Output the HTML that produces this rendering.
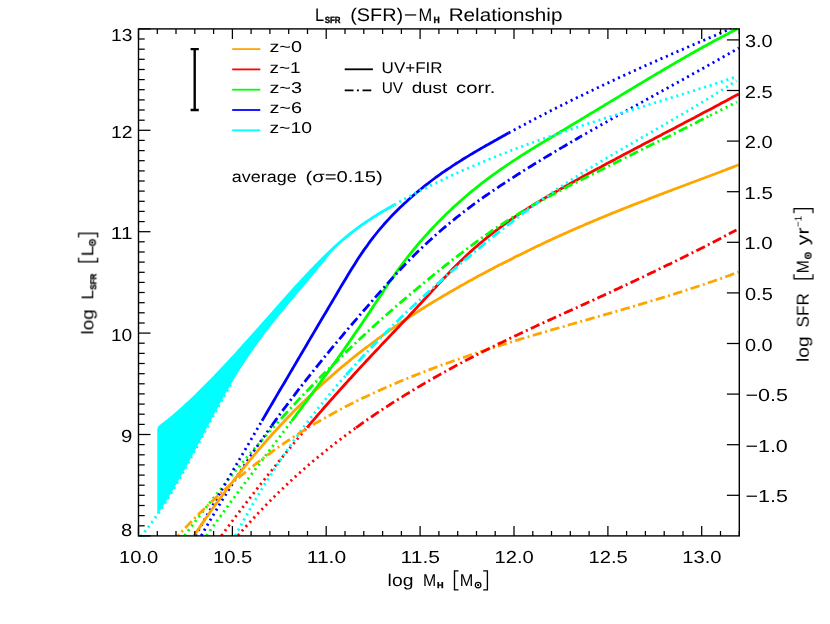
<!DOCTYPE html>
<html><head><meta charset="utf-8"><title>L_SFR - M_H</title>
<style>html,body{margin:0;padding:0;background:#fff;}body{width:830px;height:624px;overflow:hidden;font-family:"Liberation Sans",sans-serif;}svg{display:block;}</style></head>
<body>
<svg width="830" height="624" viewBox="0 0 830 624">
<rect width="830" height="624" fill="#fff"/>
<defs><clipPath id="plotclip"><rect x="137.5" y="27.9" width="602.8" height="509.0"/></clipPath></defs>
<g clip-path="url(#plotclip)">
<polygon fill="#00ffff" points="157.3,428.6 159.3,427.1 161.3,425.6 163.3,424.0 165.3,422.5 167.3,420.9 169.3,419.3 171.3,417.6 173.3,415.9 175.3,414.2 177.3,412.5 179.3,410.8 181.3,409.0 183.3,407.2 185.3,405.4 187.3,403.6 189.3,401.7 191.3,399.8 193.3,397.9 195.3,396.0 197.3,394.1 199.3,392.1 201.3,390.2 203.3,388.2 205.3,386.2 207.3,384.2 209.3,382.1 211.3,380.1 213.3,378.0 215.3,375.9 217.3,373.8 219.3,371.7 221.3,369.6 223.3,367.5 225.3,365.3 227.3,363.2 229.3,361.0 231.3,358.8 233.3,356.7 235.3,354.5 237.3,352.3 239.3,350.1 241.3,347.9 243.3,345.6 245.3,343.4 247.3,341.2 249.3,338.9 251.3,336.7 253.3,334.4 255.3,332.2 257.3,329.9 259.3,327.7 261.3,325.4 263.3,323.2 265.3,320.9 267.3,318.7 269.3,316.4 271.3,314.2 273.3,311.9 275.3,309.6 277.3,307.4 279.3,305.1 281.3,302.9 283.3,300.7 285.3,298.4 287.3,296.2 289.3,294.0 291.3,291.8 293.3,289.5 295.3,287.3 297.3,285.1 299.3,283.0 301.3,280.8 303.3,278.6 305.3,276.5 307.3,274.3 309.3,272.2 311.3,270.1 313.3,268.0 315.3,265.9 317.3,263.9 319.3,261.9 321.3,259.8 323.3,257.9 325.3,255.9 327.3,253.9 329.3,252.0 331.3,250.1 333.3,248.3 335.3,246.4 337.0,245.0 335.0,247.7 333.0,250.3 331.0,252.8 329.0,255.4 327.0,257.9 325.0,260.4 323.0,262.9 321.0,265.4 319.0,267.8 317.0,270.3 315.0,272.7 313.0,275.1 311.0,277.5 309.0,279.9 307.0,282.3 305.0,284.6 303.0,287.0 301.0,289.4 299.0,291.7 297.0,294.1 295.0,296.5 293.0,298.9 291.0,301.2 289.0,303.6 287.0,306.0 285.0,308.5 283.0,310.9 281.0,313.3 279.0,315.8 277.0,318.3 275.0,320.8 273.0,323.3 271.0,325.8 269.0,328.4 267.0,331.0 265.0,333.6 263.0,336.2 261.0,338.9 259.0,341.6 257.0,344.4 255.0,347.2 253.0,350.0 251.0,352.9 249.0,355.8 247.0,358.7 245.0,361.7 243.0,364.8 241.0,367.8 239.0,371.0 237.0,374.2 235.0,377.4 233.0,380.7 231.0,384.1 229.0,387.5 227.0,391.0 225.0,394.5 223.0,398.0 221.0,401.6 219.0,405.3 217.0,408.9 215.0,412.6 213.0,416.4 211.0,420.1 209.0,423.9 207.0,427.6 205.0,431.4 203.0,435.2 201.0,439.0 199.0,442.8 197.0,446.6 195.0,450.3 193.0,454.1 191.0,457.8 189.0,461.5 187.0,465.2 185.0,468.9 183.0,472.5 181.0,476.1 179.0,479.6 177.0,483.1 175.0,486.6 173.0,490.0 171.0,493.3 169.0,496.6 167.0,499.9 165.0,503.1 163.0,506.2 161.0,509.3 159.0,512.3 157.3,514.8"/>
<path d="M221.4 535.7 L223.4 533.0 L225.4 530.3 L227.4 527.6 L229.4 525.0 L231.4 522.3 L233.3 519.7 L235.3 517.0 L237.3 514.4 L239.3 511.8 L241.3 509.2 L243.3 506.6 L245.3 504.0 L247.3 501.4 L249.3 498.8 L251.3 496.2 L253.3 493.7 L255.2 491.1 L257.2 488.6 L259.2 486.0 L261.2 483.5 L263.2 481.0 L265.2 478.5 L267.2 476.0 L269.2 473.5 L271.2 471.0 L273.2 468.5 L275.1 466.0 L277.1 463.6 L279.1 461.1 L281.1 458.7 L283.1 456.2 L285.1 453.8 L287.1 451.4 L289.1 449.0 L291.1 446.6 L293.1 444.2 L295.1 441.8 L297.0 439.4 L299.0 437.0 L301.0 434.7 L303.0 432.3 L305.0 430.0 L307.0 427.6" fill="none" stroke="#ff0000" stroke-width="2.8" stroke-dasharray="2.1 3.73"/>
<path d="M238.0 535.6 L240.0 533.3 L242.0 531.0 L244.0 528.8 L246.0 526.5 L248.0 524.3 L250.0 522.1 L252.0 519.9 L254.0 517.7 L256.0 515.6 L258.0 513.4 L260.0 511.3 L262.0 509.2 L264.0 507.1 L266.0 505.1 L268.0 503.0 L270.0 501.0 L272.0 499.0 L274.0 497.0 L276.0 495.0 L278.0 493.0 L280.0 491.1 L282.0 489.2 L284.0 487.3 L286.0 485.4 L288.0 483.5 L290.0 481.6 L292.0 479.8 L294.0 477.9 L296.0 476.1 L298.0 474.3 L300.0 472.5 L302.0 470.8 L304.0 469.0 L306.0 467.2 L308.0 465.5 L310.0 463.8 L312.0 462.1 L314.0 460.4 L316.0 458.7 L318.0 457.1 L320.0 455.4 L322.0 453.8 L324.0 452.1 L326.0 450.5 L328.0 448.9 L330.0 447.3 L332.0 445.8 L334.0 444.2 L336.0 442.6 L338.0 441.1 L340.0 439.6 L342.0 438.1 L344.0 436.5 L346.0 435.0 L348.0 433.6 L350.0 432.1 L352.0 430.6 L354.0 429.2 L356.0 427.7" fill="none" stroke="#ff0000" stroke-width="2.8" stroke-dasharray="2.1 3.73"/>
<path d="M206.4 535.7 L208.4 532.9 L210.4 530.2 L212.3 527.4 L214.3 524.7 L216.3 521.9 L218.3 519.2 L220.3 516.5 L222.2 513.7 L224.2 511.0 L226.2 508.3 L228.2 505.6 L230.1 502.9 L232.1 500.3 L234.1 497.6 L236.1 494.9 L238.1 492.2 L240.0 489.6 L242.0 486.9 L244.0 484.3 L246.0 481.6 L248.0 479.0 L249.9 476.3 L251.9 473.7 L253.9 471.1 L255.9 468.4 L257.9 465.8 L259.8 463.2 L261.8 460.6 L263.8 457.9 L265.8 455.3 L267.8 452.7 L269.7 450.1 L271.7 447.5 L273.7 444.8 L275.7 442.2 L277.6 439.6 L279.6 437.0 L281.6 434.4 L283.6 431.7 L285.6 429.1 L287.5 426.5 L289.5 423.8 L291.5 421.2" fill="none" stroke="#00ff00" stroke-width="2.8" stroke-dasharray="2.1 3.73"/>
<path d="M184.5 535.7 L186.5 533.0 L188.5 530.3 L190.6 527.6 L192.6 524.9 L194.6 522.3 L196.6 519.7 L198.6 517.0 L200.7 514.4 L202.7 511.8 L204.7 509.2 L206.7 506.6 L208.8 504.0 L210.8 501.5 L212.8 498.9 L214.8 496.4 L216.8 493.8 L218.9 491.3 L220.9 488.8 L222.9 486.3 L224.9 483.8 L226.9 481.3 L229.0 478.9 L231.0 476.4 L233.0 474.0 L235.0 471.5 L237.0 469.1 L239.1 466.7 L241.1 464.3 L243.1 461.9 L245.1 459.5 L247.1 457.1 L249.2 454.7 L251.2 452.4 L253.2 450.0 L255.2 447.7 L257.2 445.4 L259.3 443.0 L261.3 440.7 L263.3 438.4 L265.3 436.1 L267.4 433.9 L269.4 431.6 L271.4 429.3 L273.4 427.1 L275.4 424.8 L277.5 422.6 L279.5 420.4 L281.5 418.2" fill="none" stroke="#00ff00" stroke-width="2.8" stroke-dasharray="2.1 3.73"/>
<path d="M195.3 535.7 L197.3 532.2 L199.3 528.7 L201.4 525.2 L203.4 521.7 L205.4 518.2 L207.4 514.7 L209.4 511.2 L211.5 507.7 L213.5 504.2 L215.5 500.7 L217.5 497.2 L219.6 493.7 L221.6 490.2 L223.6 486.7 L225.6 483.3 L227.6 479.8 L229.7 476.3 L231.7 472.8 L233.7 469.3 L235.7 465.9 L237.7 462.4 L239.8 458.9 L241.8 455.4 L243.8 452.0 L245.8 448.5 L247.9 445.0 L249.9 441.6 L251.9 438.1 L253.9 434.7 L255.9 431.2 L258.0 427.7 L260.0 424.3 L262.0 420.8" fill="none" stroke="#0000ff" stroke-width="2.8" stroke-dasharray="2.1 3.73"/>
<path d="M201.3 535.7 L203.3 532.1 L205.3 528.6 L207.3 525.2 L209.3 521.7 L211.4 518.3 L213.4 514.9 L215.4 511.5 L217.4 508.2 L219.4 504.8 L221.4 501.5 L223.4 498.2 L225.4 495.0 L227.4 491.7 L229.5 488.5 L231.5 485.3 L233.5 482.2 L235.5 479.0 L237.5 475.9 L239.5 472.8 L241.5 469.7 L243.5 466.6 L245.6 463.6 L247.6 460.5 L249.6 457.5 L251.6 454.5 L253.6 451.6 L255.6 448.6 L257.6 445.7 L259.6 442.8 L261.6 439.9 L263.7 437.0 L265.7 434.2 L267.7 431.3 L269.7 428.5 L271.7 425.7" fill="none" stroke="#0000ff" stroke-width="2.8" stroke-dasharray="2.1 3.73"/>
<path d="M140.6 536.5 L142.6 534.2 L144.6 531.9 L146.6 529.4 L148.6 526.8 L150.6 524.2 L152.5 521.5 L154.5 518.7 L156.5 515.9 L158.5 513.0 L160.5 510.0 L162.5 507.0 L164.5 503.9 L166.5 500.7 L168.5 497.5 L170.5 494.2 L172.5 490.9 L174.5 487.5 L176.4 484.1 L178.4 480.6 L180.4 477.1 L182.4 473.5 L184.4 469.9 L186.4 466.3 L188.4 462.7 L190.4 459.0 L192.4 455.2 L194.4 451.5 L196.4 447.8 L198.3 444.0 L200.3 440.2 L202.3 436.5 L204.3 432.7 L206.3 428.9 L208.3 425.2 L210.3 421.4 L212.3 417.7 L214.3 414.0 L216.3 410.3 L218.3 406.6 L220.3 403.0 L222.2 399.4 L224.2 395.8 L226.2 392.3 L228.2 388.8 L230.2 385.4 L232.2 382.1" fill="none" stroke="#00ffff" stroke-width="2.8" stroke-dasharray="2.1 3.73"/>
<path d="M235.3 535.7 L237.3 531.9 L239.3 528.2 L241.3 524.5 L243.4 520.8 L245.4 517.2 L247.4 513.7 L249.4 510.1 L251.4 506.6 L253.4 503.2 L255.4 499.7 L257.5 496.3 L259.5 493.0 L261.5 489.6 L263.5 486.3 L265.5 483.1 L267.5 479.9 L269.5 476.7 L271.6 473.5 L273.6 470.4 L275.6 467.3 L277.6 464.2 L279.6 461.2 L281.6 458.2 L283.6 455.2 L285.7 452.2 L287.7 449.3 L289.7 446.4 L291.7 443.6 L293.7 440.7 L295.7 437.9 L297.8 435.1 L299.8 432.4 L301.8 429.6 L303.8 426.9 L305.8 424.3 L307.8 421.6 L309.8 419.0 L311.9 416.3 L313.9 413.8 L315.9 411.2 L317.9 408.6 L319.9 406.1 L321.9 403.6 L323.9 401.1 L326.0 398.7 L328.0 396.2 L330.0 393.8 L332.0 391.4 L334.0 389.0 L336.0 386.6 L338.0 384.3 L340.1 381.9 L342.1 379.6 L344.1 377.3 L346.1 375.0" fill="none" stroke="#00ffff" stroke-width="2.8" stroke-dasharray="2.1 3.73"/>
<path d="M194.0 535.6 L196.0 532.6 L198.0 529.7 L200.0 526.7 L202.0 523.8 L204.0 520.9 L206.0 518.0 L208.0 515.2 L210.0 512.3 L212.0 509.5 L214.0 506.7 L216.0 503.9 L218.0 501.2 L220.0 498.5 L222.0 495.7 L224.0 493.1 L226.0 490.4 L228.1 487.7 L230.1 485.1 L232.1 482.5 L234.1 479.9 L236.1 477.4 L238.1 474.8 L240.1 472.3 L242.1 469.8 L244.1 467.3 L246.1 464.8 L248.1 462.4 L250.1 459.9 L252.1 457.5 L254.1 455.1 L256.1 452.8 L258.1 450.4 L260.1 448.1 L262.1 445.8 L264.1 443.5 L266.1 441.2 L268.1 438.9 L270.1 436.7 L272.1 434.5 L274.1 432.2 L276.1 430.1 L278.1 427.9 L280.1 425.7 L282.1 423.6 L284.1 421.5 L286.1 419.4 L288.1 417.3 L290.1 415.2 L292.1 413.1 L294.1 411.1 L296.1 409.1 L298.2 407.1 L300.2 405.1 L302.2 403.1 L304.2 401.2 L306.2 399.2 L308.2 397.3 L310.2 395.4 L312.2 393.5 L314.2 391.6 L316.2 389.7 L318.2 387.9 L320.2 386.0 L322.2 384.2 L324.2 382.4 L326.2 380.6 L328.2 378.8 L330.2 377.1 L332.2 375.3 L334.2 373.6 L336.2 371.8 L338.2 370.1 L340.2 368.4 L342.2 366.7 L344.2 365.1 L346.2 363.4 L348.2 361.8 L350.2 360.1 L352.2 358.5 L354.2 356.9 L356.2 355.3 L358.2 353.7 L360.2 352.2 L362.2 350.6 L364.2 349.0 L366.3 347.5 L368.3 346.0 L370.3 344.5 L372.3 343.0 L374.3 341.5 L376.3 340.0 L378.3 338.5 L380.3 337.1 L382.3 335.6 L384.3 334.2 L386.3 332.8 L388.3 331.3 L390.3 329.9 L392.3 328.5 L394.3 327.2 L396.3 325.8 L398.3 324.4 L400.3 323.1 L402.3 321.7 L404.3 320.4 L406.3 319.0 L408.3 317.7 L410.3 316.4 L412.3 315.1 L414.3 313.8 L416.3 312.5 L418.3 311.2 L420.3 310.0 L422.3 308.7 L424.3 307.5 L426.3 306.2 L428.3 305.0 L430.3 303.7 L432.4 302.5 L434.4 301.3 L436.4 300.1 L438.4 298.9 L440.4 297.7 L442.4 296.5 L444.4 295.3 L446.4 294.2 L448.4 293.0 L450.4 291.8 L452.4 290.7 L454.4 289.5 L456.4 288.4 L458.4 287.2 L460.4 286.1 L462.4 285.0 L464.4 283.9 L466.4 282.7 L468.4 281.6 L470.4 280.5 L472.4 279.4 L474.4 278.3 L476.4 277.2 L478.4 276.1 L480.4 275.1 L482.4 274.0 L484.4 272.9 L486.4 271.8 L488.4 270.8 L490.4 269.7 L492.4 268.7 L494.4 267.6 L496.4 266.6 L498.4 265.5 L500.4 264.5 L502.5 263.4 L504.5 262.4 L506.5 261.4 L508.5 260.4 L510.5 259.4 L512.5 258.4 L514.5 257.3 L516.5 256.3 L518.5 255.4 L520.5 254.4 L522.5 253.4 L524.5 252.4 L526.5 251.4 L528.5 250.4 L530.5 249.5 L532.5 248.5 L534.5 247.5 L536.5 246.6 L538.5 245.6 L540.5 244.7 L542.5 243.7 L544.5 242.8 L546.5 241.8 L548.5 240.9 L550.5 240.0 L552.5 239.1 L554.5 238.1 L556.5 237.2 L558.5 236.3 L560.5 235.4 L562.5 234.5 L564.5 233.6 L566.5 232.7 L568.5 231.8 L570.6 230.9 L572.6 230.0 L574.6 229.1 L576.6 228.3 L578.6 227.4 L580.6 226.5 L582.6 225.7 L584.6 224.8 L586.6 223.9 L588.6 223.1 L590.6 222.2 L592.6 221.4 L594.6 220.5 L596.6 219.7 L598.6 218.9 L600.6 218.0 L602.6 217.2 L604.6 216.4 L606.6 215.5 L608.6 214.7 L610.6 213.9 L612.6 213.1 L614.6 212.3 L616.6 211.5 L618.6 210.7 L620.6 209.9 L622.6 209.1 L624.6 208.3 L626.6 207.5 L628.6 206.7 L630.6 205.9 L632.6 205.1 L634.6 204.3 L636.6 203.6 L638.7 202.8 L640.7 202.0 L642.7 201.2 L644.7 200.5 L646.7 199.7 L648.7 198.9 L650.7 198.1 L652.7 197.4 L654.7 196.6 L656.7 195.9 L658.7 195.1 L660.7 194.3 L662.7 193.6 L664.7 192.8 L666.7 192.1 L668.7 191.3 L670.7 190.6 L672.7 189.8 L674.7 189.0 L676.7 188.3 L678.7 187.5 L680.7 186.8 L682.7 186.0 L684.7 185.3 L686.7 184.5 L688.7 183.8 L690.7 183.0 L692.7 182.3 L694.7 181.5 L696.7 180.8 L698.7 180.0 L700.7 179.3 L702.7 178.5 L704.8 177.8 L706.8 177.0 L708.8 176.3 L710.8 175.5 L712.8 174.7 L714.8 174.0 L716.8 173.2 L718.8 172.5 L720.8 171.7 L722.8 170.9 L724.8 170.2 L726.8 169.4 L728.8 168.6 L730.8 167.9 L732.8 167.1 L734.8 166.3 L736.8 165.5 L738.8 164.8" fill="none" stroke="#ffa500" stroke-width="2.8"/>
<path d="M178.2 535.5 L180.2 533.4 L182.2 531.2 L184.2 529.1 L186.2 527.0 L188.2 524.9 L190.2 522.8 L192.2 520.8 L194.2 518.7 L196.2 516.7 L198.2 514.7 L200.2 512.7 L202.2 510.7 L204.2 508.8 L206.2 506.8 L208.2 504.9 L210.2 503.0 L212.2 501.1 L214.2 499.3 L216.2 497.4 L218.2 495.6 L220.2 493.7 L222.2 491.9 L224.2 490.1 L226.2 488.4 L228.2 486.6 L230.2 484.9 L232.2 483.1 L234.2 481.4 L236.2 479.7 L238.2 478.0 L240.2 476.4 L242.2 474.7 L244.2 473.1 L246.2 471.4 L248.2 469.8 L250.2 468.2 L252.2 466.7 L254.2 465.1 L256.2 463.5 L258.2 462.0 L260.2 460.5 L262.2 459.0 L264.2 457.5 L266.2 456.0 L268.2 454.5 L270.2 453.1 L272.2 451.6 L274.2 450.2 L276.2 448.8 L278.2 447.3 L280.2 446.0 L282.2 444.6 L284.2 443.2 L286.2 441.8 L288.2 440.5 L290.2 439.2 L292.2 437.9 L294.2 436.5 L296.2 435.2 L298.2 434.0 L300.2 432.7 L302.2 431.4 L304.2 430.2 L306.2 428.9 L308.2 427.7 L310.2 426.5 L312.2 425.3 L314.2 424.1 L316.2 422.9 L318.2 421.7 L320.3 420.6 L322.3 419.4 L324.3 418.3 L326.3 417.1 L328.3 416.0 L330.3 414.9 L332.3 413.8 L334.3 412.7 L336.3 411.6 L338.3 410.5 L340.3 409.5 L342.3 408.4 L344.3 407.4 L346.3 406.3 L348.3 405.3 L350.3 404.3 L352.3 403.3 L354.3 402.3 L356.3 401.3 L358.3 400.3 L360.3 399.3 L362.3 398.3 L364.3 397.4 L366.3 396.4 L368.3 395.5 L370.3 394.5 L372.3 393.6 L374.3 392.7 L376.3 391.8 L378.3 390.9 L380.3 390.0 L382.3 389.1 L384.3 388.2 L386.3 387.3 L388.3 386.4 L390.3 385.6 L392.3 384.7 L394.3 383.8 L396.3 383.0 L398.3 382.1 L400.3 381.3 L402.3 380.5 L404.3 379.6 L406.3 378.8 L408.3 378.0 L410.3 377.2 L412.3 376.4 L414.3 375.6 L416.3 374.8 L418.3 374.0 L420.3 373.2 L422.3 372.5 L424.3 371.7 L426.3 370.9 L428.3 370.2 L430.3 369.4 L432.3 368.6 L434.3 367.9 L436.3 367.1 L438.3 366.4 L440.3 365.7 L442.3 364.9 L444.3 364.2 L446.3 363.5 L448.3 362.8 L450.3 362.1 L452.3 361.3 L454.3 360.6 L456.3 359.9 L458.3 359.2 L460.3 358.5 L462.3 357.9 L464.3 357.2 L466.3 356.5 L468.3 355.8 L470.3 355.1 L472.3 354.5 L474.3 353.8 L476.3 353.1 L478.3 352.5 L480.3 351.8 L482.3 351.1 L484.3 350.5 L486.3 349.8 L488.3 349.2 L490.3 348.5 L492.3 347.9 L494.3 347.3 L496.3 346.6 L498.3 346.0 L500.3 345.4 L502.3 344.7 L504.3 344.1 L506.3 343.5 L508.3 342.9 L510.3 342.3 L512.3 341.6 L514.3 341.0 L516.3 340.4 L518.3 339.8 L520.3 339.2 L522.3 338.6 L524.3 338.0 L526.3 337.4 L528.3 336.8 L530.3 336.2 L532.3 335.6 L534.3 335.0 L536.3 334.4 L538.3 333.8 L540.3 333.2 L542.3 332.7 L544.3 332.1 L546.3 331.5 L548.3 330.9 L550.3 330.3 L552.3 329.7 L554.3 329.2 L556.3 328.6 L558.3 328.0 L560.3 327.4 L562.3 326.8 L564.3 326.3 L566.3 325.7 L568.3 325.1 L570.3 324.5 L572.3 324.0 L574.3 323.4 L576.3 322.8 L578.3 322.3 L580.3 321.7 L582.3 321.1 L584.3 320.5 L586.3 320.0 L588.3 319.4 L590.3 318.8 L592.3 318.2 L594.3 317.7 L596.3 317.1 L598.4 316.5 L600.4 316.0 L602.4 315.4 L604.4 314.8 L606.4 314.2 L608.4 313.7 L610.4 313.1 L612.4 312.5 L614.4 311.9 L616.4 311.3 L618.4 310.8 L620.4 310.2 L622.4 309.6 L624.4 309.0 L626.4 308.4 L628.4 307.9 L630.4 307.3 L632.4 306.7 L634.4 306.1 L636.4 305.5 L638.4 304.9 L640.4 304.3 L642.4 303.7 L644.4 303.1 L646.4 302.5 L648.4 301.9 L650.4 301.3 L652.4 300.7 L654.4 300.1 L656.4 299.5 L658.4 298.9 L660.4 298.3 L662.4 297.7 L664.4 297.1 L666.4 296.5 L668.4 295.8 L670.4 295.2 L672.4 294.6 L674.4 294.0 L676.4 293.3 L678.4 292.7 L680.4 292.1 L682.4 291.4 L684.4 290.8 L686.4 290.1 L688.4 289.5 L690.4 288.8 L692.4 288.2 L694.4 287.5 L696.4 286.9 L698.4 286.2 L700.4 285.5 L702.4 284.9 L704.4 284.2 L706.4 283.5 L708.4 282.8 L710.4 282.1 L712.4 281.5 L714.4 280.8 L716.4 280.1 L718.4 279.4 L720.4 278.7 L722.4 278.0 L724.4 277.2 L726.4 276.5 L728.4 275.8 L730.4 275.1 L732.4 274.3 L734.4 273.6 L736.4 272.9 L738.4 272.1" fill="none" stroke="#ffa500" stroke-width="2.8" stroke-dasharray="9.5 3.4 2 3.4" stroke-dashoffset="8.0"/>
<path d="M307.0 427.6 L309.0 425.3 L311.0 422.9 L313.0 420.6 L315.0 418.3 L317.0 416.0 L319.0 413.6 L321.0 411.3 L323.0 409.0 L325.0 406.8 L327.0 404.5 L329.0 402.2 L331.0 399.9 L333.0 397.7 L335.0 395.4 L337.0 393.2 L339.0 390.9 L341.0 388.7 L343.0 386.5 L345.0 384.3 L347.0 382.1 L349.0 379.8 L351.0 377.7 L353.0 375.5 L355.0 373.3 L357.0 371.1 L359.0 368.9 L361.0 366.8 L363.0 364.6 L365.0 362.5 L367.0 360.3 L369.0 358.2 L371.0 356.0 L373.0 353.9 L375.0 351.8 L377.0 349.7 L379.0 347.6 L381.0 345.4 L383.0 343.3 L385.0 341.2 L387.0 339.1 L389.0 337.0 L391.0 334.9 L393.0 332.8 L395.0 330.7 L397.0 328.6 L399.0 326.5 L401.0 324.4 L403.0 322.3 L405.0 320.2 L407.0 318.1 L409.0 316.0 L411.0 313.8 L413.0 311.7 L414.9 309.6 L416.9 307.5 L418.9 305.3 L420.9 303.2 L422.9 301.0 L424.9 298.8 L426.9 296.7 L428.9 294.5 L430.9 292.3 L432.9 290.1 L434.9 288.0 L436.9 285.8 L438.9 283.6 L440.9 281.5 L442.9 279.3 L444.9 277.2 L446.9 275.1 L448.9 273.0 L450.9 270.9 L452.9 268.8 L454.9 266.8 L456.9 264.7 L458.9 262.8 L460.9 260.8 L462.9 258.9 L464.9 257.0 L466.9 255.1 L468.9 253.2 L470.9 251.4 L472.9 249.6 L474.9 247.8 L476.9 246.1 L478.9 244.3 L480.9 242.6 L482.9 241.0 L484.9 239.3 L486.9 237.7 L488.9 236.1 L490.9 234.5 L492.9 232.9 L494.9 231.4 L496.9 229.8 L498.9 228.3 L500.9 226.8 L502.9 225.4 L504.9 223.9 L506.9 222.5 L508.9 221.1 L510.9 219.7 L512.9 218.3 L514.9 216.9 L516.9 215.6 L518.9 214.2 L520.9 212.9 L522.9 211.6 L524.9 210.3 L526.9 209.0 L528.9 207.7 L530.9 206.5 L532.9 205.2 L534.9 204.0 L536.9 202.8 L538.9 201.6 L540.9 200.4 L542.9 199.2 L544.9 198.0 L546.9 196.8 L548.9 195.7 L550.9 194.5 L552.9 193.3 L554.9 192.2 L556.9 191.1 L558.9 189.9 L560.9 188.8 L562.9 187.7 L564.9 186.6 L566.9 185.4 L568.9 184.3 L570.9 183.2 L572.9 182.1 L574.9 181.0 L576.9 179.9 L578.9 178.8 L580.9 177.7 L582.9 176.6 L584.9 175.5 L586.9 174.4 L588.9 173.3 L590.9 172.3 L592.9 171.2 L594.9 170.1 L596.9 169.0 L598.9 167.9 L600.9 166.9 L602.9 165.8 L604.9 164.7 L606.9 163.6 L608.9 162.6 L610.9 161.5 L612.9 160.4 L614.9 159.4 L616.9 158.3 L618.9 157.3 L620.9 156.2 L622.9 155.1 L624.9 154.1 L626.9 153.0 L628.9 152.0 L630.8 150.9 L632.8 149.9 L634.8 148.8 L636.8 147.8 L638.8 146.7 L640.8 145.7 L642.8 144.6 L644.8 143.6 L646.8 142.5 L648.8 141.5 L650.8 140.4 L652.8 139.4 L654.8 138.3 L656.8 137.3 L658.8 136.2 L660.8 135.2 L662.8 134.1 L664.8 133.1 L666.8 132.0 L668.8 131.0 L670.8 130.0 L672.8 128.9 L674.8 127.9 L676.8 126.8 L678.8 125.8 L680.8 124.7 L682.8 123.7 L684.8 122.6 L686.8 121.6 L688.8 120.5 L690.8 119.5 L692.8 118.4 L694.8 117.4 L696.8 116.3 L698.8 115.3 L700.8 114.2 L702.8 113.1 L704.8 112.1 L706.8 111.0 L708.8 110.0 L710.8 108.9 L712.8 107.9 L714.8 106.8 L716.8 105.7 L718.8 104.7 L720.8 103.6 L722.8 102.5 L724.8 101.4 L726.8 100.4 L728.8 99.3 L730.8 98.2 L732.8 97.1 L734.8 96.1 L736.8 95.0 L738.8 93.9" fill="none" stroke="#ff0000" stroke-width="2.8"/>
<path d="M356.0 427.7 L358.0 426.3 L360.0 424.8 L362.0 423.4 L364.0 422.0 L366.0 420.6 L368.0 419.2 L370.0 417.8 L372.0 416.5 L374.0 415.1 L376.0 413.7 L378.0 412.4 L380.0 411.1 L382.0 409.7 L384.0 408.4 L386.0 407.1 L388.0 405.8 L390.0 404.5 L392.0 403.2 L394.1 401.9 L396.1 400.7 L398.1 399.4 L400.1 398.1 L402.1 396.9 L404.1 395.6 L406.1 394.4 L408.1 393.2 L410.1 392.0 L412.1 390.7 L414.1 389.5 L416.1 388.3 L418.1 387.1 L420.1 386.0 L422.1 384.8 L424.1 383.6 L426.1 382.4 L428.1 381.3 L430.1 380.1 L432.1 379.0 L434.1 377.8 L436.1 376.7 L438.1 375.6 L440.1 374.4 L442.1 373.3 L444.1 372.2 L446.1 371.1 L448.1 370.0 L450.1 368.9 L452.1 367.8 L454.1 366.7 L456.1 365.6 L458.1 364.6 L460.1 363.5 L462.1 362.4 L464.1 361.4 L466.1 360.3 L468.1 359.3 L470.1 358.2 L472.2 357.2 L474.2 356.2 L476.2 355.1 L478.2 354.1 L480.2 353.1 L482.2 352.1 L484.2 351.1 L486.2 350.1 L488.2 349.1 L490.2 348.1 L492.2 347.1 L494.2 346.1 L496.2 345.1 L498.2 344.1 L500.2 343.1 L502.2 342.2 L504.2 341.2 L506.2 340.2 L508.2 339.3 L510.2 338.3 L512.2 337.3 L514.2 336.4 L516.2 335.4 L518.2 334.5 L520.2 333.5 L522.2 332.6 L524.2 331.7 L526.2 330.7 L528.2 329.8 L530.2 328.9 L532.2 327.9 L534.2 327.0 L536.2 326.1 L538.2 325.1 L540.2 324.2 L542.2 323.3 L544.2 322.4 L546.2 321.4 L548.3 320.5 L550.3 319.6 L552.3 318.7 L554.3 317.8 L556.3 316.9 L558.3 316.0 L560.3 315.0 L562.3 314.1 L564.3 313.2 L566.3 312.3 L568.3 311.4 L570.3 310.5 L572.3 309.6 L574.3 308.7 L576.3 307.8 L578.3 306.8 L580.3 305.9 L582.3 305.0 L584.3 304.1 L586.3 303.2 L588.3 302.3 L590.3 301.4 L592.3 300.5 L594.3 299.5 L596.3 298.6 L598.3 297.7 L600.3 296.8 L602.3 295.9 L604.3 294.9 L606.3 294.0 L608.3 293.1 L610.3 292.2 L612.3 291.2 L614.3 290.3 L616.3 289.4 L618.3 288.5 L620.3 287.5 L622.3 286.6 L624.4 285.7 L626.4 284.7 L628.4 283.8 L630.4 282.8 L632.4 281.9 L634.4 281.0 L636.4 280.0 L638.4 279.1 L640.4 278.1 L642.4 277.2 L644.4 276.2 L646.4 275.3 L648.4 274.3 L650.4 273.3 L652.4 272.4 L654.4 271.4 L656.4 270.5 L658.4 269.5 L660.4 268.5 L662.4 267.6 L664.4 266.6 L666.4 265.6 L668.4 264.6 L670.4 263.7 L672.4 262.7 L674.4 261.7 L676.4 260.7 L678.4 259.7 L680.4 258.7 L682.4 257.7 L684.4 256.7 L686.4 255.7 L688.4 254.7 L690.4 253.7 L692.4 252.7 L694.4 251.7 L696.4 250.7 L698.5 249.7 L700.5 248.7 L702.5 247.7 L704.5 246.7 L706.5 245.6 L708.5 244.6 L710.5 243.6 L712.5 242.6 L714.5 241.5 L716.5 240.5 L718.5 239.4 L720.5 238.4 L722.5 237.4 L724.5 236.3 L726.5 235.3 L728.5 234.2 L730.5 233.1 L732.5 232.1 L734.5 231.0 L736.5 230.0" fill="none" stroke="#ff0000" stroke-width="2.8" stroke-dasharray="9.5 3.4 2 3.4"/>
<path d="M291.5 421.2 L293.5 418.6 L295.5 415.9 L297.5 413.2 L299.5 410.6 L301.5 407.9 L303.5 405.2 L305.5 402.5 L307.5 399.8 L309.5 397.1 L311.5 394.4 L313.5 391.7 L315.5 389.0 L317.5 386.3 L319.5 383.6 L321.5 380.9 L323.5 378.1 L325.5 375.4 L327.5 372.6 L329.5 369.8 L331.5 367.1 L333.5 364.3 L335.5 361.5 L337.5 358.7 L339.5 355.9 L341.5 353.1 L343.5 350.2 L345.5 347.4 L347.4 344.6 L349.4 341.7 L351.4 338.8 L353.4 335.9 L355.4 333.0 L357.4 330.1 L359.4 327.2 L361.4 324.3 L363.4 321.3 L365.4 318.3 L367.4 315.4 L369.4 312.4 L371.4 309.4 L373.4 306.3 L375.4 303.3 L377.4 300.3 L379.4 297.3 L381.4 294.2 L383.4 291.2 L385.4 288.2 L387.4 285.3 L389.4 282.3 L391.4 279.4 L393.4 276.5 L395.4 273.6 L397.4 270.8 L399.4 268.0 L401.4 265.3 L403.4 262.6 L405.4 260.0 L407.4 257.4 L409.4 254.9 L411.4 252.4 L413.4 249.9 L415.4 247.5 L417.4 245.1 L419.4 242.7 L421.4 240.4 L423.4 238.1 L425.4 235.9 L427.4 233.7 L429.4 231.5 L431.4 229.3 L433.4 227.2 L435.4 225.1 L437.4 223.0 L439.4 221.0 L441.4 219.0 L443.4 217.0 L445.4 215.0 L447.4 213.1 L449.4 211.2 L451.4 209.3 L453.4 207.4 L455.4 205.6 L457.4 203.8 L459.3 202.0 L461.3 200.2 L463.3 198.5 L465.3 196.8 L467.3 195.1 L469.3 193.4 L471.3 191.7 L473.3 190.1 L475.3 188.5 L477.3 186.9 L479.3 185.3 L481.3 183.7 L483.3 182.2 L485.3 180.7 L487.3 179.2 L489.3 177.7 L491.3 176.2 L493.3 174.7 L495.3 173.3 L497.3 171.9 L499.3 170.4 L501.3 169.0 L503.3 167.7 L505.3 166.3 L507.3 164.9 L509.3 163.6 L511.3 162.2 L513.3 160.9 L515.3 159.6 L517.3 158.3 L519.3 157.0 L521.3 155.7 L523.3 154.4 L525.3 153.2 L527.3 151.9 L529.3 150.7 L531.3 149.4 L533.3 148.2 L535.3 146.9 L537.3 145.7 L539.3 144.5 L541.3 143.3 L543.3 142.1 L545.3 140.9 L547.3 139.7 L549.3 138.5 L551.3 137.3 L553.3 136.1 L555.3 134.9 L557.3 133.7 L559.3 132.5 L561.3 131.3 L563.3 130.1 L565.3 128.9 L567.3 127.7 L569.3 126.5 L571.2 125.3 L573.2 124.1 L575.2 123.0 L577.2 121.8 L579.2 120.6 L581.2 119.3 L583.2 118.1 L585.2 116.9 L587.2 115.7 L589.2 114.5 L591.2 113.3 L593.2 112.1 L595.2 110.9 L597.2 109.7 L599.2 108.5 L601.2 107.3 L603.2 106.1 L605.2 104.8 L607.2 103.6 L609.2 102.4 L611.2 101.2 L613.2 100.0 L615.2 98.8 L617.2 97.6 L619.2 96.4 L621.2 95.1 L623.2 93.9 L625.2 92.7 L627.2 91.5 L629.2 90.3 L631.2 89.1 L633.2 87.9 L635.2 86.7 L637.2 85.5 L639.2 84.3 L641.2 83.1 L643.2 81.9 L645.2 80.7 L647.2 79.5 L649.2 78.3 L651.2 77.1 L653.2 75.9 L655.2 74.7 L657.2 73.5 L659.2 72.4 L661.2 71.2 L663.2 70.0 L665.2 68.8 L667.2 67.6 L669.2 66.5 L671.2 65.3 L673.2 64.1 L675.2 63.0 L677.2 61.8 L679.2 60.7 L681.2 59.5 L683.1 58.4 L685.1 57.2 L687.1 56.1 L689.1 54.9 L691.1 53.8 L693.1 52.7 L695.1 51.5 L697.1 50.4 L699.1 49.3 L701.1 48.2 L703.1 47.1 L705.1 46.0 L707.1 44.9 L709.1 43.8 L711.1 42.7 L713.1 41.6 L715.1 40.5 L717.1 39.5 L719.1 38.4 L721.1 37.3 L723.1 36.3 L725.1 35.2 L727.1 34.2 L729.1 33.1 L731.1 32.1 L733.1 31.1 L735.1 30.0 L737.1 29.0" fill="none" stroke="#00ff00" stroke-width="2.8"/>
<path d="M281.5 418.2 L283.5 416.0 L285.5 413.8 L287.5 411.6 L289.5 409.5 L291.5 407.3 L293.5 405.2 L295.5 403.1 L297.5 400.9 L299.5 398.8 L301.5 396.7 L303.5 394.6 L305.5 392.5 L307.5 390.4 L309.5 388.4 L311.5 386.3 L313.5 384.3 L315.5 382.2 L317.5 380.2 L319.5 378.1 L321.5 376.1 L323.5 374.1 L325.6 372.1 L327.6 370.1 L329.6 368.1 L331.6 366.1 L333.6 364.2 L335.6 362.2 L337.6 360.3 L339.6 358.3 L341.6 356.4 L343.6 354.4 L345.6 352.5 L347.6 350.6 L349.6 348.7 L351.6 346.8 L353.6 344.9 L355.6 343.0 L357.6 341.1 L359.6 339.2 L361.6 337.4 L363.6 335.5 L365.6 333.7 L367.6 331.8 L369.6 330.0 L371.6 328.2 L373.6 326.3 L375.6 324.5 L377.6 322.7 L379.6 320.9 L381.6 319.1 L383.6 317.4 L385.6 315.6 L387.6 313.8 L389.6 312.0 L391.6 310.3 L393.6 308.5 L395.6 306.8 L397.6 305.0 L399.6 303.3 L401.6 301.6 L403.6 299.9 L405.6 298.2 L407.6 296.5 L409.6 294.8 L411.7 293.1 L413.7 291.4 L415.7 289.7 L417.7 288.0 L419.7 286.4 L421.7 284.7 L423.7 283.0 L425.7 281.4 L427.7 279.8 L429.7 278.1 L431.7 276.5 L433.7 274.9 L435.7 273.2 L437.7 271.6 L439.7 270.0 L441.7 268.4 L443.7 266.8 L445.7 265.2 L447.7 263.7 L449.7 262.1 L451.7 260.5 L453.7 259.0 L455.7 257.4 L457.7 255.9 L459.7 254.3 L461.7 252.8 L463.7 251.3 L465.7 249.8 L467.7 248.3 L469.7 246.8 L471.7 245.3 L473.7 243.8 L475.7 242.3 L477.7 240.9 L479.7 239.4 L481.7 238.0 L483.7 236.6 L485.7 235.2 L487.7 233.8 L489.7 232.4 L491.7 231.0 L493.7 229.7 L495.8 228.3 L497.8 227.0 L499.8 225.6 L501.8 224.3 L503.8 223.0 L505.8 221.7 L507.8 220.4 L509.8 219.2 L511.8 217.9 L513.8 216.7 L515.8 215.5 L517.8 214.2 L519.8 213.0 L521.8 211.8 L523.8 210.6 L525.8 209.5 L527.8 208.3 L529.8 207.1 L531.8 206.0 L533.8 204.8 L535.8 203.7 L537.8 202.6 L539.8 201.5 L541.8 200.4 L543.8 199.3 L545.8 198.2 L547.8 197.1 L549.8 196.0 L551.8 195.0 L553.8 193.9 L555.8 192.9 L557.8 191.8 L559.8 190.8 L561.8 189.7 L563.8 188.7 L565.8 187.7 L567.8 186.6 L569.8 185.6 L571.8 184.6 L573.8 183.6 L575.8 182.6 L577.8 181.6 L579.8 180.5 L581.9 179.5 L583.9 178.5 L585.9 177.5 L587.9 176.5 L589.9 175.5 L591.9 174.5 L593.9 173.5 L595.9 172.5 L597.9 171.5 L599.9 170.5 L601.9 169.5 L603.9 168.5 L605.9 167.5 L607.9 166.5 L609.9 165.5 L611.9 164.5 L613.9 163.5 L615.9 162.5 L617.9 161.5 L619.9 160.5 L621.9 159.5 L623.9 158.5 L625.9 157.5 L627.9 156.5 L629.9 155.5 L631.9 154.6 L633.9 153.6 L635.9 152.6 L637.9 151.6 L639.9 150.6 L641.9 149.6 L643.9 148.6 L645.9 147.6 L647.9 146.6 L649.9 145.6 L651.9 144.6 L653.9 143.6 L655.9 142.6 L657.9 141.6 L659.9 140.6 L661.9 139.6 L663.9 138.7 L665.9 137.7 L668.0 136.7 L670.0 135.7 L672.0 134.7 L674.0 133.7 L676.0 132.7 L678.0 131.7 L680.0 130.7 L682.0 129.7 L684.0 128.7 L686.0 127.7 L688.0 126.7 L690.0 125.7 L692.0 124.7 L694.0 123.7 L696.0 122.7 L698.0 121.6 L700.0 120.6 L702.0 119.6 L704.0 118.6 L706.0 117.6 L708.0 116.6 L710.0 115.6" fill="none" stroke="#00ff00" stroke-width="2.8" stroke-dasharray="9.5 3.4 2 3.4"/>
<path d="M262.0 420.8 L264.0 417.4 L266.0 414.0 L268.0 410.5 L270.0 407.1 L272.0 403.7 L274.0 400.3 L276.0 396.9 L278.0 393.4 L280.0 390.0 L282.0 386.6 L284.1 383.2 L286.1 379.8 L288.1 376.4 L290.1 372.9 L292.1 369.5 L294.1 366.1 L296.1 362.7 L298.1 359.3 L300.1 355.9 L302.1 352.5 L304.1 349.1 L306.1 345.7 L308.1 342.3 L310.1 338.9 L312.1 335.5 L314.1 332.1 L316.1 328.7 L318.1 325.3 L320.1 321.9 L322.1 318.5 L324.2 315.1 L326.2 311.7 L328.2 308.3 L330.2 304.9 L332.2 301.5 L334.2 298.1 L336.2 294.7 L338.2 291.3 L340.2 287.9 L342.2 284.5 L344.2 281.2 L346.2 277.9 L348.2 274.6 L350.2 271.3 L352.2 268.1 L354.2 264.9 L356.2 261.7 L358.2 258.6 L360.2 255.5 L362.2 252.6 L364.2 249.6 L366.3 246.8 L368.3 244.0 L370.3 241.2 L372.3 238.6 L374.3 236.0 L376.3 233.5 L378.3 231.0 L380.3 228.6 L382.3 226.3 L384.3 224.0 L386.3 221.8 L388.3 219.6 L390.3 217.4 L392.3 215.3 L394.3 213.3 L396.3 211.3 L398.3 209.3 L400.3 207.3 L402.3 205.4 L404.3 203.5 L406.4 201.7 L408.4 199.8 L410.4 198.0 L412.4 196.3 L414.4 194.5 L416.4 192.8 L418.4 191.1 L420.4 189.5 L422.4 187.8 L424.4 186.2 L426.4 184.6 L428.4 183.1 L430.4 181.5 L432.4 180.0 L434.4 178.5 L436.4 177.0 L438.4 175.6 L440.4 174.2 L442.4 172.7 L444.4 171.3 L446.4 170.0 L448.5 168.6 L450.5 167.3 L452.5 165.9 L454.5 164.6 L456.5 163.3 L458.5 162.1 L460.5 160.8 L462.5 159.5 L464.5 158.3 L466.5 157.1 L468.5 155.9 L470.5 154.6 L472.5 153.5 L474.5 152.3 L476.5 151.1 L478.5 149.9 L480.5 148.8 L482.5 147.6 L484.5 146.5 L486.5 145.3 L488.6 144.2 L490.6 143.0 L492.6 141.9 L494.6 140.8 L496.6 139.7 L498.6 138.5 L500.6 137.4 L502.6 136.3 L504.6 135.2 L506.6 134.1 L508.6 133.0" fill="none" stroke="#0000ff" stroke-width="2.8"/>
<path d="M271.7 425.7 L273.7 422.9 L275.7 420.1 L277.7 417.4 L279.7 414.7 L281.7 411.9 L283.7 409.2 L285.7 406.6 L287.7 403.9 L289.7 401.2 L291.7 398.6 L293.7 396.0 L295.7 393.3 L297.7 390.7 L299.7 388.1 L301.7 385.6 L303.8 383.0 L305.8 380.4 L307.8 377.9 L309.8 375.4 L311.8 372.9 L313.8 370.3 L315.8 367.8 L317.8 365.4 L319.8 362.9 L321.8 360.4 L323.8 358.0 L325.8 355.5 L327.8 353.1 L329.8 350.7 L331.8 348.2 L333.8 345.8 L335.8 343.4 L337.8 341.0 L339.8 338.6 L341.8 336.3 L343.8 333.9 L345.8 331.5 L347.8 329.2 L349.8 326.8 L351.8 324.5 L353.8 322.1 L355.8 319.8 L357.8 317.5 L359.8 315.1 L361.8 312.8 L363.8 310.5 L365.9 308.2 L367.9 305.9 L369.9 303.6 L371.9 301.3 L373.9 299.0 L375.9 296.7 L377.9 294.4 L379.9 292.1 L381.9 289.9 L383.9 287.6 L385.9 285.4 L387.9 283.1 L389.9 280.9 L391.9 278.7 L393.9 276.5 L395.9 274.3 L397.9 272.1 L399.9 270.0 L401.9 267.8 L403.9 265.7 L405.9 263.6 L407.9 261.6 L409.9 259.5 L411.9 257.5 L413.9 255.5 L415.9 253.5 L417.9 251.5 L419.9 249.6 L421.9 247.7 L423.9 245.8 L426.0 243.9 L428.0 242.0 L430.0 240.2 L432.0 238.4 L434.0 236.6 L436.0 234.8 L438.0 233.0 L440.0 231.3 L442.0 229.5 L444.0 227.8 L446.0 226.2 L448.0 224.5 L450.0 222.8 L452.0 221.2 L454.0 219.6 L456.0 217.9 L458.0 216.4 L460.0 214.8 L462.0 213.2 L464.0 211.7 L466.0 210.1 L468.0 208.6 L470.0 207.1 L472.0 205.6 L474.0 204.1 L476.0 202.7 L478.0 201.2 L480.0 199.8 L482.0 198.3 L484.0 196.9 L486.0 195.5 L488.1 194.1 L490.1 192.7 L492.1 191.3 L494.1 190.0 L496.1 188.6 L498.1 187.3 L500.1 185.9 L502.1 184.6 L504.1 183.3 L506.1 182.0 L508.1 180.7 L510.1 179.4 L512.1 178.1 L514.1 176.8 L516.1 175.5 L518.1 174.2 L520.1 173.0 L522.1 171.7 L524.1 170.4 L526.1 169.2 L528.1 168.0 L530.1 166.7 L532.1 165.5 L534.1 164.2 L536.1 163.0 L538.1 161.8 L540.1 160.6 L542.1 159.3 L544.1 158.1 L546.1 156.9 L548.1 155.7 L550.2 154.5 L552.2 153.3 L554.2 152.1 L556.2 150.9 L558.2 149.7 L560.2 148.5 L562.2 147.4 L564.2 146.2 L566.2 145.0 L568.2 143.8 L570.2 142.7 L572.2 141.5 L574.2 140.3 L576.2 139.2 L578.2 138.0 L580.2 136.8" fill="none" stroke="#0000ff" stroke-width="2.8" stroke-dasharray="9.5 3.4 2 3.4"/>
<path d="M158.4 427.8 L160.4 426.3 L162.4 424.7 L164.4 423.2 L166.4 421.6 L168.4 420.0 L170.4 418.4 L172.4 416.7 L174.4 415.0 L176.4 413.3 L178.4 411.6 L180.4 409.8 L182.4 408.0 L184.4 406.2 L186.4 404.4 L188.4 402.6 L190.4 400.7 L192.4 398.8 L194.4 396.9 L196.4 395.0 L198.3 393.1 L200.3 391.1 L202.3 389.1 L204.3 387.1 L206.3 385.1 L208.3 383.1 L210.3 381.1 L212.3 379.0 L214.3 376.9 L216.3 374.8 L218.3 372.8 L220.3 370.6 L222.3 368.5 L224.3 366.4 L226.3 364.2 L228.3 362.1 L230.3 359.9 L232.3 357.7 L234.3 355.6 L236.3 353.4 L238.3 351.2 L240.3 349.0 L242.3 346.7 L244.3 344.5 L246.3 342.3 L248.3 340.1 L250.3 337.8 L252.3 335.6 L254.3 333.3 L256.3 331.1 L258.3 328.9 L260.3 326.6 L262.3 324.3 L264.3 322.1 L266.3 319.8 L268.3 317.6 L270.3 315.3 L272.3 313.1 L274.3 310.8 L276.2 308.6 L278.2 306.3 L280.2 304.1 L282.2 301.8 L284.2 299.6 L286.2 297.4 L288.2 295.2 L290.2 292.9 L292.2 290.7 L294.2 288.5 L296.2 286.3 L298.2 284.1 L300.2 282.0 L302.2 279.8 L304.2 277.6 L306.2 275.5 L308.2 273.4 L310.2 271.3 L312.2 269.2 L314.2 267.1 L316.2 265.0 L318.2 263.0 L320.2 261.0 L322.2 259.0 L324.2 257.0 L326.2 255.0 L328.2 253.1 L330.2 251.2 L332.2 249.3 L334.2 247.4 L336.2 245.6 L338.2 243.8 L340.2 242.0 L342.2 240.3 L344.2 238.6 L346.2 236.9 L348.2 235.3 L350.2 233.7 L352.2 232.1 L354.2 230.6 L356.1 229.1 L358.1 227.6 L360.1 226.1 L362.1 224.7 L364.1 223.3 L366.1 222.0 L368.1 220.6 L370.1 219.3 L372.1 218.0 L374.1 216.7 L376.1 215.5 L378.1 214.2 L380.1 213.0 L382.1 211.8 L384.1 210.6 L386.1 209.5 L388.1 208.3 L390.1 207.2 L392.1 206.0 L394.1 204.9" fill="none" stroke="#00ffff" stroke-width="2.8"/>
<path d="M346.1 375.0 L348.1 372.8 L350.1 370.5 L352.1 368.3 L354.1 366.1 L356.1 363.9 L358.0 361.7 L360.0 359.6 L362.0 357.4 L364.0 355.3 L366.0 353.1 L368.0 351.0 L370.0 348.9 L372.0 346.8 L374.0 344.7 L376.0 342.7 L378.0 340.6 L379.9 338.6 L381.9 336.5 L383.9 334.5 L385.9 332.5 L387.9 330.5 L389.9 328.5 L391.9 326.6 L393.9 324.6 L395.9 322.6 L397.9 320.7 L399.8 318.7 L401.8 316.8 L403.8 314.9 L405.8 313.0 L407.8 311.1 L409.8 309.2 L411.8 307.3 L413.8 305.5 L415.8 303.6 L417.8 301.7 L419.8 299.9 L421.7 298.1 L423.7 296.2 L425.7 294.4 L427.7 292.6 L429.7 290.8 L431.7 289.0 L433.7 287.2 L435.7 285.4 L437.7 283.6 L439.7 281.9 L441.7 280.1 L443.6 278.4 L445.6 276.6 L447.6 274.9 L449.6 273.1 L451.6 271.4 L453.6 269.7 L455.6 268.0 L457.6 266.2 L459.6 264.5 L461.6 262.8 L463.5 261.1 L465.5 259.4 L467.5 257.8 L469.5 256.1 L471.5 254.4 L473.5 252.7 L475.5 251.1 L477.5 249.4 L479.5 247.8 L481.5 246.1 L483.5 244.5 L485.4 242.8 L487.4 241.2 L489.4 239.6 L491.4 238.0 L493.4 236.4 L495.4 234.8 L497.4 233.2 L499.4 231.6 L501.4 230.0 L503.4 228.5 L505.4 226.9 L507.3 225.3 L509.3 223.8 L511.3 222.3 L513.3 220.7 L515.3 219.2 L517.3 217.7 L519.3 216.2 L521.3 214.7 L523.3 213.2 L525.3 211.7 L527.2 210.2 L529.2 208.8 L531.2 207.3 L533.2 205.9 L535.2 204.4 L537.2 203.0" fill="none" stroke="#00ffff" stroke-width="2.8" stroke-dasharray="9.5 3.4 2 3.4"/>
<path d="M710.0 115.6 L712.1 114.5 L714.1 113.5 L716.2 112.5 L718.3 111.4 L720.3 110.3 L722.4 109.3 L724.5 108.2 L726.6 107.2 L728.6 106.1 L730.7 105.1 L732.8 104.0 L734.8 102.9 L736.9 101.9" fill="none" stroke="#00ff00" stroke-width="2.8" stroke-dasharray="2.1 3.73"/>
<path d="M508.6 133.0 L510.6 131.9 L512.6 130.8 L514.6 129.7 L516.6 128.7 L518.6 127.6 L520.6 126.5 L522.6 125.4 L524.6 124.4 L526.6 123.3 L528.6 122.3 L530.6 121.2 L532.6 120.1 L534.6 119.1 L536.7 118.0 L538.7 117.0 L540.7 116.0 L542.7 114.9 L544.7 113.9 L546.7 112.9 L548.7 111.8 L550.7 110.8 L552.7 109.8 L554.7 108.8 L556.7 107.8 L558.7 106.8 L560.7 105.8 L562.7 104.8 L564.7 103.8 L566.7 102.8 L568.7 101.8 L570.7 100.8 L572.7 99.8 L574.7 98.8 L576.7 97.8 L578.7 96.8 L580.7 95.9 L582.7 94.9 L584.7 93.9 L586.7 92.9 L588.7 92.0 L590.7 91.0 L592.8 90.1 L594.8 89.1 L596.8 88.1 L598.8 87.2 L600.8 86.2 L602.8 85.3 L604.8 84.3 L606.8 83.4 L608.8 82.5 L610.8 81.5 L612.8 80.6 L614.8 79.7 L616.8 78.7 L618.8 77.8 L620.8 76.9 L622.8 76.0 L624.8 75.0 L626.8 74.1 L628.8 73.2 L630.8 72.3 L632.8 71.4 L634.8 70.5 L636.8 69.6 L638.8 68.6 L640.8 67.7 L642.8 66.8 L644.8 65.9 L646.8 65.0 L648.9 64.1 L650.9 63.3 L652.9 62.4 L654.9 61.5 L656.9 60.6 L658.9 59.7 L660.9 58.8 L662.9 57.9 L664.9 57.0 L666.9 56.2 L668.9 55.3 L670.9 54.4 L672.9 53.5 L674.9 52.7 L676.9 51.8 L678.9 50.9 L680.9 50.0 L682.9 49.2 L684.9 48.3 L686.9 47.4 L688.9 46.6 L690.9 45.7 L692.9 44.9 L694.9 44.0 L696.9 43.1 L698.9 42.3 L700.9 41.4 L702.9 40.6 L705.0 39.7 L707.0 38.9 L709.0 38.0 L711.0 37.2 L713.0 36.3 L715.0 35.5 L717.0 34.6 L719.0 33.8 L721.0 32.9 L723.0 32.1 L725.0 31.2 L727.0 30.4 L729.0 29.6 L731.0 28.7" fill="none" stroke="#0000ff" stroke-width="2.8" stroke-dasharray="2.1 3.73"/>
<path d="M580.2 136.8 L582.2 135.7 L584.2 134.5 L586.2 133.4 L588.2 132.2 L590.2 131.1 L592.2 129.9 L594.3 128.8 L596.3 127.7 L598.3 126.5 L600.3 125.4 L602.3 124.2 L604.3 123.1 L606.3 122.0 L608.3 120.8 L610.3 119.7 L612.3 118.6 L614.3 117.5 L616.3 116.3 L618.3 115.2 L620.4 114.1 L622.4 113.0 L624.4 111.9 L626.4 110.8 L628.4 109.6 L630.4 108.5 L632.4 107.4 L634.4 106.3 L636.4 105.2 L638.4 104.1 L640.4 103.0 L642.4 101.9 L644.4 100.7 L646.5 99.6 L648.5 98.5 L650.5 97.4 L652.5 96.3 L654.5 95.2 L656.5 94.1 L658.5 93.0 L660.5 91.9 L662.5 90.8 L664.5 89.7 L666.5 88.6 L668.5 87.4 L670.5 86.3 L672.5 85.2 L674.6 84.1 L676.6 83.0 L678.6 81.9 L680.6 80.8 L682.6 79.7 L684.6 78.6 L686.6 77.5 L688.6 76.3 L690.6 75.2 L692.6 74.1 L694.6 73.0 L696.6 71.9 L698.6 70.8 L700.7 69.6 L702.7 68.5 L704.7 67.4 L706.7 66.3 L708.7 65.1 L710.7 64.0 L712.7 62.9 L714.7 61.7 L716.7 60.6 L718.7 59.5 L720.7 58.3 L722.7 57.2 L724.7 56.0 L726.8 54.9 L728.8 53.8 L730.8 52.6 L732.8 51.5 L734.8 50.3 L736.8 49.2 L738.8 48.0" fill="none" stroke="#0000ff" stroke-width="2.8" stroke-dasharray="2.1 3.73"/>
<path d="M394.1 204.9 L396.1 203.8 L398.1 202.7 L400.1 201.6 L402.1 200.5 L404.1 199.4 L406.1 198.3 L408.1 197.2 L410.1 196.2 L412.0 195.1 L414.0 194.1 L416.0 193.0 L418.0 192.0 L420.0 190.9 L422.0 189.9 L424.0 188.9 L426.0 187.9 L428.0 186.9 L430.0 185.9 L432.0 184.9 L434.0 183.9 L436.0 183.0 L438.0 182.0 L440.0 181.0 L442.0 180.1 L444.0 179.1 L445.9 178.2 L447.9 177.3 L449.9 176.3 L451.9 175.4 L453.9 174.5 L455.9 173.6 L457.9 172.7 L459.9 171.8 L461.9 170.9 L463.9 170.0 L465.9 169.1 L467.9 168.3 L469.9 167.4 L471.9 166.5 L473.9 165.7 L475.9 164.8 L477.9 164.0 L479.9 163.1 L481.8 162.3 L483.8 161.5 L485.8 160.6 L487.8 159.8 L489.8 159.0 L491.8 158.2 L493.8 157.4 L495.8 156.6 L497.8 155.8 L499.8 155.0 L501.8 154.2 L503.8 153.4 L505.8 152.7 L507.8 151.9 L509.8 151.1 L511.8 150.3 L513.8 149.6 L515.7 148.8 L517.7 148.1 L519.7 147.3 L521.7 146.6 L523.7 145.8 L525.7 145.1 L527.7 144.4 L529.7 143.7 L531.7 142.9 L533.7 142.2 L535.7 141.5 L537.7 140.8 L539.7 140.1 L541.7 139.4 L543.7 138.7 L545.7 137.9 L547.7 137.3 L549.6 136.6 L551.6 135.9 L553.6 135.2 L555.6 134.5 L557.6 133.8 L559.6 133.1 L561.6 132.5 L563.6 131.8 L565.6 131.1 L567.6 130.4 L569.6 129.8 L571.6 129.1 L573.6 128.4 L575.6 127.8 L577.6 127.1 L579.6 126.5 L581.6 125.8 L583.5 125.2 L585.5 124.5 L587.5 123.9 L589.5 123.2 L591.5 122.6 L593.5 122.0 L595.5 121.3 L597.5 120.7 L599.5 120.0 L601.5 119.4 L603.5 118.8 L605.5 118.1 L607.5 117.5 L609.5 116.9 L611.5 116.3 L613.5 115.6 L615.5 115.0 L617.4 114.4 L619.4 113.8 L621.4 113.1 L623.4 112.5 L625.4 111.9 L627.4 111.3 L629.4 110.7 L631.4 110.0 L633.4 109.4 L635.4 108.8 L637.4 108.2 L639.4 107.6 L641.4 106.9 L643.4 106.3 L645.4 105.7 L647.4 105.1 L649.4 104.5 L651.4 103.9 L653.3 103.3 L655.3 102.6 L657.3 102.0 L659.3 101.4 L661.3 100.8 L663.3 100.2 L665.3 99.6 L667.3 98.9 L669.3 98.3 L671.3 97.7 L673.3 97.1 L675.3 96.5 L677.3 95.8 L679.3 95.2 L681.3 94.6 L683.3 94.0 L685.3 93.3 L687.2 92.7 L689.2 92.1 L691.2 91.4 L693.2 90.8 L695.2 90.2 L697.2 89.6 L699.2 88.9 L701.2 88.3 L703.2 87.6 L705.2 87.0 L707.2 86.4 L709.2 85.7 L711.2 85.1 L713.2 84.4 L715.2 83.8 L717.2 83.1 L719.2 82.5 L721.1 81.8 L723.1 81.2 L725.1 80.5 L727.1 79.8 L729.1 79.2 L731.1 78.5 L733.1 77.8 L735.1 77.2 L737.1 76.5" fill="none" stroke="#00ffff" stroke-width="2.8" stroke-dasharray="2.1 3.73"/>
<path d="M537.2 203.0 L539.2 201.6 L541.2 200.2 L543.2 198.8 L545.2 197.4 L547.2 196.0 L549.2 194.6 L551.2 193.3 L553.1 191.9 L555.1 190.6 L557.1 189.2 L559.1 187.9 L561.1 186.6 L563.1 185.3 L565.1 184.0 L567.1 182.7 L569.1 181.4 L571.1 180.1 L573.1 178.8 L575.1 177.5 L577.1 176.3 L579.1 175.0 L581.0 173.8 L583.0 172.5 L585.0 171.3 L587.0 170.0 L589.0 168.8 L591.0 167.6 L593.0 166.4 L595.0 165.1 L597.0 163.9 L599.0 162.7 L601.0 161.5 L603.0 160.3 L605.0 159.1 L607.0 157.9 L608.9 156.8 L610.9 155.6 L612.9 154.4 L614.9 153.2 L616.9 152.1 L618.9 150.9 L620.9 149.7 L622.9 148.6 L624.9 147.4 L626.9 146.2 L628.9 145.1 L630.9 143.9 L632.9 142.8 L634.9 141.6 L636.9 140.5 L638.8 139.3 L640.8 138.2 L642.8 137.0 L644.8 135.9 L646.8 134.7 L648.8 133.6 L650.8 132.4 L652.8 131.3 L654.8 130.1 L656.8 129.0 L658.8 127.8 L660.8 126.7 L662.8 125.5 L664.8 124.4 L666.7 123.2 L668.7 122.1 L670.7 120.9 L672.7 119.7 L674.7 118.6 L676.7 117.4 L678.7 116.2 L680.7 115.1 L682.7 113.9 L684.7 112.7 L686.7 111.6 L688.7 110.4 L690.7 109.2 L692.7 108.0 L694.6 106.8 L696.6 105.6 L698.6 104.4 L700.6 103.2 L702.6 102.0 L704.6 100.8 L706.6 99.6 L708.6 98.3 L710.6 97.1 L712.6 95.9 L714.6 94.6 L716.6 93.4 L718.6 92.1 L720.6 90.9 L722.5 89.6 L724.5 88.3 L726.5 87.1 L728.5 85.8 L730.5 84.5 L732.5 83.2 L734.5 81.9 L736.5 80.6" fill="none" stroke="#00ffff" stroke-width="2.8" stroke-dasharray="2.1 3.73"/>
</g>
<g stroke="#000" stroke-width="1.4" fill="none" stroke-linecap="butt">
<rect x="138.5" y="28.9" width="600.8" height="507.0"/>
<path stroke-width="1.25" d="M138.5 535.9 v-10.0 M138.5 28.9 v10.0"/>
<path stroke-width="1.25" d="M157.3 535.9 v-5.0 M157.3 28.9 v5.0"/>
<path stroke-width="1.25" d="M176.0 535.9 v-5.0 M176.0 28.9 v5.0"/>
<path stroke-width="1.25" d="M194.8 535.9 v-5.0 M194.8 28.9 v5.0"/>
<path stroke-width="1.25" d="M213.6 535.9 v-5.0 M213.6 28.9 v5.0"/>
<path stroke-width="1.25" d="M232.4 535.9 v-10.0 M232.4 28.9 v10.0"/>
<path stroke-width="1.25" d="M251.1 535.9 v-5.0 M251.1 28.9 v5.0"/>
<path stroke-width="1.25" d="M269.9 535.9 v-5.0 M269.9 28.9 v5.0"/>
<path stroke-width="1.25" d="M288.7 535.9 v-5.0 M288.7 28.9 v5.0"/>
<path stroke-width="1.25" d="M307.5 535.9 v-5.0 M307.5 28.9 v5.0"/>
<path stroke-width="1.25" d="M326.2 535.9 v-10.0 M326.2 28.9 v10.0"/>
<path stroke-width="1.25" d="M345.0 535.9 v-5.0 M345.0 28.9 v5.0"/>
<path stroke-width="1.25" d="M363.8 535.9 v-5.0 M363.8 28.9 v5.0"/>
<path stroke-width="1.25" d="M382.6 535.9 v-5.0 M382.6 28.9 v5.0"/>
<path stroke-width="1.25" d="M401.4 535.9 v-5.0 M401.4 28.9 v5.0"/>
<path stroke-width="1.25" d="M420.1 535.9 v-10.0 M420.1 28.9 v10.0"/>
<path stroke-width="1.25" d="M438.9 535.9 v-5.0 M438.9 28.9 v5.0"/>
<path stroke-width="1.25" d="M457.7 535.9 v-5.0 M457.7 28.9 v5.0"/>
<path stroke-width="1.25" d="M476.5 535.9 v-5.0 M476.5 28.9 v5.0"/>
<path stroke-width="1.25" d="M495.2 535.9 v-5.0 M495.2 28.9 v5.0"/>
<path stroke-width="1.25" d="M514.0 535.9 v-10.0 M514.0 28.9 v10.0"/>
<path stroke-width="1.25" d="M532.8 535.9 v-5.0 M532.8 28.9 v5.0"/>
<path stroke-width="1.25" d="M551.5 535.9 v-5.0 M551.5 28.9 v5.0"/>
<path stroke-width="1.25" d="M570.3 535.9 v-5.0 M570.3 28.9 v5.0"/>
<path stroke-width="1.25" d="M589.1 535.9 v-5.0 M589.1 28.9 v5.0"/>
<path stroke-width="1.25" d="M607.9 535.9 v-10.0 M607.9 28.9 v10.0"/>
<path stroke-width="1.25" d="M626.6 535.9 v-5.0 M626.6 28.9 v5.0"/>
<path stroke-width="1.25" d="M645.4 535.9 v-5.0 M645.4 28.9 v5.0"/>
<path stroke-width="1.25" d="M664.2 535.9 v-5.0 M664.2 28.9 v5.0"/>
<path stroke-width="1.25" d="M683.0 535.9 v-5.0 M683.0 28.9 v5.0"/>
<path stroke-width="1.25" d="M701.7 535.9 v-10.0 M701.7 28.9 v10.0"/>
<path stroke-width="1.25" d="M720.5 535.9 v-5.0 M720.5 28.9 v5.0"/>
<path stroke-width="1.25" d="M739.3 535.9 v-5.0 M739.3 28.9 v5.0"/>
<path stroke-width="1.25" d="M138.5 535.9 h12.0"/>
<path stroke-width="1.25" d="M138.5 525.8 h6.2"/>
<path stroke-width="1.25" d="M138.5 515.6 h6.2"/>
<path stroke-width="1.25" d="M138.5 505.5 h6.2"/>
<path stroke-width="1.25" d="M138.5 495.3 h6.2"/>
<path stroke-width="1.25" d="M138.5 485.2 h6.2"/>
<path stroke-width="1.25" d="M138.5 475.1 h6.2"/>
<path stroke-width="1.25" d="M138.5 464.9 h6.2"/>
<path stroke-width="1.25" d="M138.5 454.8 h6.2"/>
<path stroke-width="1.25" d="M138.5 444.6 h6.2"/>
<path stroke-width="1.25" d="M138.5 434.5 h12.0"/>
<path stroke-width="1.25" d="M138.5 424.4 h6.2"/>
<path stroke-width="1.25" d="M138.5 414.2 h6.2"/>
<path stroke-width="1.25" d="M138.5 404.1 h6.2"/>
<path stroke-width="1.25" d="M138.5 393.9 h6.2"/>
<path stroke-width="1.25" d="M138.5 383.8 h6.2"/>
<path stroke-width="1.25" d="M138.5 373.7 h6.2"/>
<path stroke-width="1.25" d="M138.5 363.5 h6.2"/>
<path stroke-width="1.25" d="M138.5 353.4 h6.2"/>
<path stroke-width="1.25" d="M138.5 343.2 h6.2"/>
<path stroke-width="1.25" d="M138.5 333.1 h12.0"/>
<path stroke-width="1.25" d="M138.5 323.0 h6.2"/>
<path stroke-width="1.25" d="M138.5 312.8 h6.2"/>
<path stroke-width="1.25" d="M138.5 302.7 h6.2"/>
<path stroke-width="1.25" d="M138.5 292.5 h6.2"/>
<path stroke-width="1.25" d="M138.5 282.4 h6.2"/>
<path stroke-width="1.25" d="M138.5 272.3 h6.2"/>
<path stroke-width="1.25" d="M138.5 262.1 h6.2"/>
<path stroke-width="1.25" d="M138.5 252.0 h6.2"/>
<path stroke-width="1.25" d="M138.5 241.8 h6.2"/>
<path stroke-width="1.25" d="M138.5 231.7 h12.0"/>
<path stroke-width="1.25" d="M138.5 221.6 h6.2"/>
<path stroke-width="1.25" d="M138.5 211.4 h6.2"/>
<path stroke-width="1.25" d="M138.5 201.3 h6.2"/>
<path stroke-width="1.25" d="M138.5 191.1 h6.2"/>
<path stroke-width="1.25" d="M138.5 181.0 h6.2"/>
<path stroke-width="1.25" d="M138.5 170.9 h6.2"/>
<path stroke-width="1.25" d="M138.5 160.7 h6.2"/>
<path stroke-width="1.25" d="M138.5 150.6 h6.2"/>
<path stroke-width="1.25" d="M138.5 140.4 h6.2"/>
<path stroke-width="1.25" d="M138.5 130.3 h12.0"/>
<path stroke-width="1.25" d="M138.5 120.2 h6.2"/>
<path stroke-width="1.25" d="M138.5 110.0 h6.2"/>
<path stroke-width="1.25" d="M138.5 99.9 h6.2"/>
<path stroke-width="1.25" d="M138.5 89.7 h6.2"/>
<path stroke-width="1.25" d="M138.5 79.6 h6.2"/>
<path stroke-width="1.25" d="M138.5 69.5 h6.2"/>
<path stroke-width="1.25" d="M138.5 59.3 h6.2"/>
<path stroke-width="1.25" d="M138.5 49.2 h6.2"/>
<path stroke-width="1.25" d="M138.5 39.0 h6.2"/>
<path stroke-width="1.25" d="M138.5 28.9 h12.0"/>
<path stroke-width="1.25" d="M739.3 39.9 h-12.4"/>
<path stroke-width="1.25" d="M739.3 90.5 h-12.4"/>
<path stroke-width="1.25" d="M739.3 141.1 h-12.4"/>
<path stroke-width="1.25" d="M739.3 191.7 h-12.4"/>
<path stroke-width="1.25" d="M739.3 242.3 h-12.4"/>
<path stroke-width="1.25" d="M739.3 292.9 h-12.4"/>
<path stroke-width="1.25" d="M739.3 343.5 h-12.4"/>
<path stroke-width="1.25" d="M739.3 394.1 h-12.4"/>
<path stroke-width="1.25" d="M739.3 444.7 h-12.4"/>
<path stroke-width="1.25" d="M739.3 495.3 h-12.4"/>
</g>
<path d="M232.2 49.1 H260.3" stroke="#ffa500" stroke-width="1.8"/>
<path d="M232.2 69.4 H260.3" stroke="#ff0000" stroke-width="1.8"/>
<path d="M232.2 89.7 H260.3" stroke="#00ff00" stroke-width="1.8"/>
<path d="M232.2 110.0 H260.3" stroke="#0000ff" stroke-width="1.8"/>
<path d="M232.2 130.3 H260.3" stroke="#00ffff" stroke-width="1.8"/>
<path d="M344.7 69.3 H372.9" stroke="#000" stroke-width="1.8"/>
<path d="M344.7 90.3 H372.9" stroke="#000" stroke-width="1.8" stroke-dasharray="8.8 3.4 2 3.6"/>
<path d="M194.7 49 V110 M190.6 49.1 H198.8 M190.6 110 H198.8" stroke="#000" stroke-width="2.4" fill="none"/>
<g font-family="Liberation Sans, sans-serif" fill="#000" text-rendering="geometricPrecision" opacity="0.999">
<text x="314.99" y="21.10" font-size="18.20" textLength="9.12" lengthAdjust="spacingAndGlyphs">L</text>
<text x="324.66" y="23.30" font-size="9.00" textLength="15.90" lengthAdjust="spacingAndGlyphs" font-weight="bold" stroke="#000" stroke-width="0.35">SFR</text>
<text x="350.21" y="21.10" font-size="18.20" textLength="53.01" lengthAdjust="spacingAndGlyphs">(SFR)</text>
<text x="403.84" y="21.10" font-size="18.20" textLength="13.61" lengthAdjust="spacingAndGlyphs">−</text>
<text x="418.39" y="21.10" font-size="18.20" textLength="13.68" lengthAdjust="spacingAndGlyphs">M</text>
<text x="433.44" y="23.30" font-size="9.00" textLength="6.24" lengthAdjust="spacingAndGlyphs" font-weight="bold" stroke="#000" stroke-width="0.35">H</text>
<text x="448.65" y="21.10" font-size="18.20" textLength="113.75" lengthAdjust="spacingAndGlyphs">Relationship</text>
<text x="119.09" y="562.60" font-size="17.40" textLength="39.24" lengthAdjust="spacingAndGlyphs">10.0</text>
<text x="212.96" y="562.60" font-size="17.40" textLength="39.35" lengthAdjust="spacingAndGlyphs">10.5</text>
<text x="306.77" y="562.60" font-size="17.40" textLength="39.36" lengthAdjust="spacingAndGlyphs">11.0</text>
<text x="400.64" y="562.60" font-size="17.40" textLength="39.47" lengthAdjust="spacingAndGlyphs">11.5</text>
<text x="494.59" y="562.60" font-size="17.40" textLength="39.24" lengthAdjust="spacingAndGlyphs">12.0</text>
<text x="588.46" y="562.60" font-size="17.40" textLength="39.35" lengthAdjust="spacingAndGlyphs">12.5</text>
<text x="682.34" y="562.60" font-size="17.40" textLength="39.24" lengthAdjust="spacingAndGlyphs">13.0</text>
<text x="387.64" y="585.50" font-size="17.00" textLength="25.80" lengthAdjust="spacingAndGlyphs">log</text>
<text x="423.03" y="585.50" font-size="17.00" textLength="13.18" lengthAdjust="spacingAndGlyphs">M</text>
<text x="436.91" y="588.20" font-size="8.60" textLength="6.61" lengthAdjust="spacingAndGlyphs" font-weight="bold" stroke="#000" stroke-width="0.35">H</text>
<path d="M458.5 570.9 H454.5 V589.8 H458.5" fill="none" stroke="#000" stroke-width="1.35"/>
<text x="459.80" y="585.50" font-size="17.00" textLength="13.55" lengthAdjust="spacingAndGlyphs">M</text>
<circle cx="478.1" cy="585.1" r="2.8" fill="none" stroke="#000" stroke-width="1.25"/><circle cx="478.1" cy="585.1" r="1.15" fill="#000"/>
<path d="M483.2 570.9 H487.4 V589.8 H483.2" fill="none" stroke="#000" stroke-width="1.35"/>
<text x="110.96" y="41.10" font-size="17.40" textLength="21.35" lengthAdjust="spacingAndGlyphs">13</text>
<text x="110.95" y="137.70" font-size="17.40" textLength="21.57" lengthAdjust="spacingAndGlyphs">12</text>
<text x="110.83" y="239.10" font-size="17.40" textLength="21.67" lengthAdjust="spacingAndGlyphs">11</text>
<text x="110.97" y="340.50" font-size="17.40" textLength="21.25" lengthAdjust="spacingAndGlyphs">10</text>
<text x="121.08" y="441.90" font-size="17.40" textLength="11.36" lengthAdjust="spacingAndGlyphs">9</text>
<text x="121.09" y="536.40" font-size="17.40" textLength="11.24" lengthAdjust="spacingAndGlyphs">8</text>
<text x="745.00" y="46.90" font-size="17.40" textLength="27.70" lengthAdjust="spacingAndGlyphs">3.0</text>
<text x="744.79" y="97.50" font-size="17.40" textLength="28.02" lengthAdjust="spacingAndGlyphs">2.5</text>
<text x="744.80" y="148.10" font-size="17.40" textLength="27.91" lengthAdjust="spacingAndGlyphs">2.0</text>
<text x="744.26" y="198.70" font-size="17.40" textLength="28.57" lengthAdjust="spacingAndGlyphs">1.5</text>
<text x="744.26" y="249.30" font-size="17.40" textLength="28.45" lengthAdjust="spacingAndGlyphs">1.0</text>
<text x="745.00" y="299.90" font-size="17.40" textLength="27.80" lengthAdjust="spacingAndGlyphs">0.5</text>
<text x="745.00" y="350.50" font-size="17.40" textLength="27.70" lengthAdjust="spacingAndGlyphs">0.0</text>
<text x="745.42" y="401.10" font-size="17.40" textLength="42.52" lengthAdjust="spacingAndGlyphs">−0.5</text>
<text x="745.43" y="451.70" font-size="17.40" textLength="42.41" lengthAdjust="spacingAndGlyphs">−1.0</text>
<text x="745.42" y="502.30" font-size="17.40" textLength="42.52" lengthAdjust="spacingAndGlyphs">−1.5</text>
<g transform="translate(93.3 333.5) rotate(-90)">
<text x="-1.02" y="0.00" font-size="17.00" textLength="25.14" lengthAdjust="spacingAndGlyphs">log</text>
<text x="34.02" y="0.00" font-size="17.00" textLength="9.62" lengthAdjust="spacingAndGlyphs">L</text>
<text x="43.86" y="3.00" font-size="8.60" textLength="15.80" lengthAdjust="spacingAndGlyphs" font-weight="bold" stroke="#000" stroke-width="0.35">SFR</text>
<path d="M75.8 -14.6 H71.7 V4.3 H75.8" fill="none" stroke="#000" stroke-width="1.35"/>
<text x="77.21" y="0.00" font-size="17.00" textLength="10.37" lengthAdjust="spacingAndGlyphs">L</text>
<circle cx="90.9" cy="-0.8" r="2.8" fill="none" stroke="#000" stroke-width="1.25"/><circle cx="90.9" cy="-0.8" r="1.15" fill="#000"/>
<path d="M96.0 -14.6 H100.1 V4.3 H96.0" fill="none" stroke="#000" stroke-width="1.35"/>
</g>
<g transform="translate(808.6 361.0) rotate(-90)">
<text x="-0.95" y="0.00" font-size="17.00" textLength="25.58" lengthAdjust="spacingAndGlyphs">log</text>
<text x="33.53" y="0.00" font-size="17.00" textLength="34.24" lengthAdjust="spacingAndGlyphs">SFR</text>
<path d="M86.8 -14.6 H82.2 V4.3 H86.8" fill="none" stroke="#000" stroke-width="1.35"/>
<text x="87.75" y="0.00" font-size="17.00" textLength="13.06" lengthAdjust="spacingAndGlyphs">M</text>
<circle cx="105.4" cy="-0.5" r="2.8" fill="none" stroke="#000" stroke-width="1.25"/><circle cx="105.4" cy="-0.5" r="1.15" fill="#000"/>
<text x="115.89" y="0.00" font-size="17.00" textLength="17.69" lengthAdjust="spacingAndGlyphs">yr</text>
<text x="134.02" y="-7.40" font-size="10.00" textLength="11.02" lengthAdjust="spacingAndGlyphs">−1</text>
<path d="M147.8 -14.6 H152.3 V4.3 H147.8" fill="none" stroke="#000" stroke-width="1.35"/>
</g>
<text x="269.41" y="52.20" font-size="15.60" textLength="32.49" lengthAdjust="spacingAndGlyphs">z~0</text>
<text x="269.44" y="72.50" font-size="15.60" textLength="31.12" lengthAdjust="spacingAndGlyphs">z~1</text>
<text x="269.41" y="92.80" font-size="15.60" textLength="32.59" lengthAdjust="spacingAndGlyphs">z~3</text>
<text x="269.41" y="113.10" font-size="15.60" textLength="32.59" lengthAdjust="spacingAndGlyphs">z~6</text>
<text x="269.43" y="133.40" font-size="15.60" textLength="42.48" lengthAdjust="spacingAndGlyphs">z~10</text>
<text x="381.63" y="72.60" font-size="15.60" textLength="60.91" lengthAdjust="spacingAndGlyphs">UV+FIR</text>
<text x="381.74" y="93.20" font-size="15.60" textLength="21.40" lengthAdjust="spacingAndGlyphs">UV</text>
<text x="411.65" y="93.20" font-size="15.60" textLength="35.65" lengthAdjust="spacingAndGlyphs">dust</text>
<text x="456.09" y="93.20" font-size="15.60" textLength="39.33" lengthAdjust="spacingAndGlyphs">corr.</text>
<text x="231.88" y="181.50" font-size="15.60" textLength="64.80" lengthAdjust="spacingAndGlyphs">average</text>
<text x="305.49" y="181.50" font-size="15.60" textLength="77.20" lengthAdjust="spacingAndGlyphs">(σ=0.15)</text>
</g>
</svg>
</body></html>
